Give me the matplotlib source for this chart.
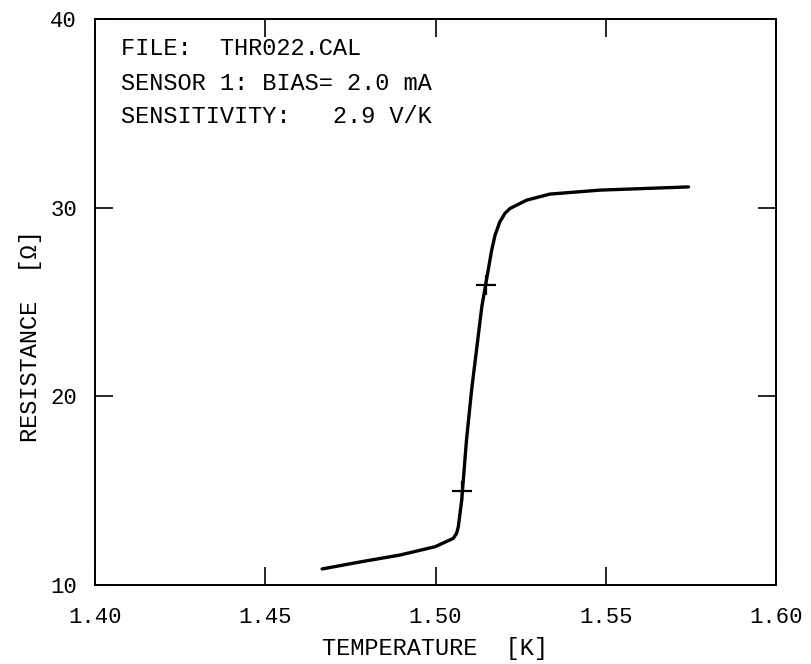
import matplotlib
matplotlib.use("Agg")
import matplotlib.pyplot as plt

# Calibration sweep: resistance vs temperature
temperature = [1.4667, 1.4778, 1.4896, 1.4999, 1.5052, 1.5062, 1.5067, 1.5077,
               1.5091, 1.5106, 1.5136, 1.5165, 1.5175, 1.5189, 1.5204, 1.5219,
               1.5268, 1.5336, 1.5483, 1.5743]
resistance = [10.85, 11.22, 11.59, 12.03, 12.47, 12.74, 13.09, 14.50,
              17.68, 20.33, 24.75, 27.75, 28.55, 29.25, 29.70, 29.96,
              30.40, 30.72, 30.93, 31.10]

# Marked calibration points
mark_temperature = [1.5079, 1.5148]
mark_resistance = [15.0, 25.9]

x_ticks = [1.40, 1.45, 1.50, 1.55, 1.60]
x_tick_labels = ["1.40", "1.45", "1.50", "1.55", "1.60"]
y_ticks = [10, 20, 30, 40]
y_tick_labels = ["10", "20", "30", "40"]

info_lines = ["FILE:  THR022.CAL",
              "SENSOR 1: BIAS= 2.0 mA",
              "SENSITIVITY:   2.9 V/K"]

FONT = "Liberation Mono"
W, H = 812, 664

fig = plt.figure(figsize=(W / 100, H / 100), dpi=100)
ax = fig.add_axes([95 / W, 1 - 585 / H, 681 / W, 566 / H])

ax.plot(temperature, resistance, color="black", lw=2.4, solid_capstyle="round")
ax.plot(mark_temperature, mark_resistance, linestyle="none", marker="+",
        markersize=14, markeredgewidth=1.6, color="black")

ax.set_xlim(1.40, 1.60)
ax.set_ylim(10, 40)
ax.set_xticks(x_ticks)
ax.set_xticklabels(x_tick_labels, family=FONT, fontsize=16)
ax.set_yticks(y_ticks)
ax.set_yticklabels(y_tick_labels, family=FONT, fontsize=16)
ax.tick_params(direction="in", length=13, width=1.2, top=True, right=True,
               color="black")
ax.tick_params(axis="x", pad=16)
ax.tick_params(axis="y", pad=13)

for s in ax.spines.values():
    s.set_linewidth(1.4)

ax.set_xlabel("TEMPERATURE  [K]", family=FONT, fontsize=17, labelpad=6)
ax.set_ylabel("RESISTANCE  [\u03a9]", family=FONT, fontsize=17, labelpad=12)
ax.yaxis.set_label_coords(-0.078, 0.44)

baselines = [55, 90, 123]
for text, yb in zip(info_lines, baselines):
    fig.text(121 / W, 1 - yb / H, text, family=FONT, fontsize=17,
             ha="left", va="baseline")

fig.savefig("out.png", dpi=100, facecolor="white")
